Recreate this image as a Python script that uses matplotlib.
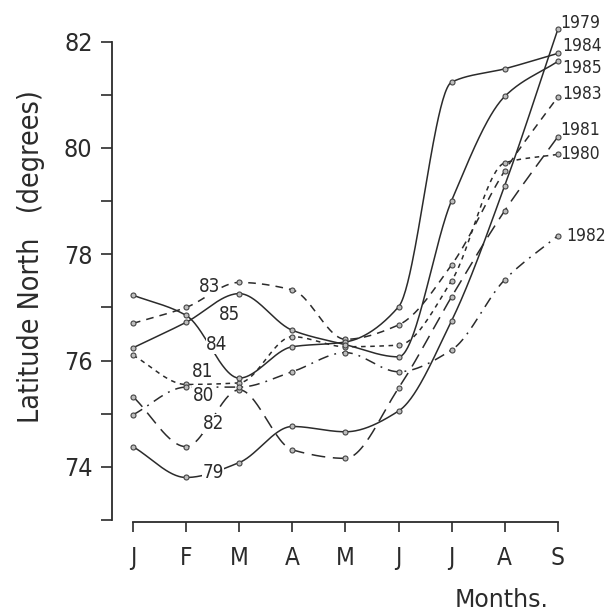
import matplotlib.pyplot as plt
import numpy as np

months = ["J", "F", "M", "A", "M", "J", "J", "A", "S"]

# latitude north (degrees) of the ice edge, Jan..Sep
lat_1979 = [74.38, 73.80, 74.08, 74.76, 74.66, 75.05, 76.75, 79.29, 82.23]
lat_1980 = [76.10, 75.55, 75.58, 76.45, 76.26, 76.29, 77.50, 79.72, 79.88]
lat_1981 = [75.32, 74.38, 75.45, 74.32, 74.16, 75.48, 77.20, 78.82, 80.21]
lat_1982 = [74.98, 75.50, 75.50, 75.79, 76.15, 75.79, 76.20, 77.52, 78.35]
lat_1983 = [76.70, 77.00, 77.47, 77.33, 76.40, 76.67, 77.80, 79.57, 80.96]
lat_1984 = [77.23, 76.85, 75.67, 76.26, 76.35, 77.01, 81.24, 81.49, 81.78]
lat_1985 = [76.24, 76.72, 77.26, 76.57, 76.30, 76.07, 79.01, 80.97, 81.63]

years = ["1979", "1980", "1981", "1982", "1983", "1984", "1985"]
series = [lat_1979, lat_1980, lat_1981, lat_1982, lat_1983, lat_1984, lat_1985]

INK = "#2b2b2b"
styles = {
    "1979": "-",
    "1980": (0, (3, 3)),
    "1981": (0, (9, 5)),
    "1982": (0, (7, 4, 1.2, 4)),
    "1983": (0, (5, 4)),
    "1984": "-",
    "1985": "-",
}
# end label offsets in points (dx, dy)
end_offsets = {
    "1979": (2, 5), "1984": (3, 5), "1985": (3, -5), "1983": (3, 2),
    "1981": (2, 5), "1980": (2, 0), "1982": (6, 0),
}
# short year tags written inside the plot (month index, latitude)
tags = [("83", 1.45, 77.39), ("85", 1.81, 76.86), ("84", 1.58, 76.31),
        ("81", 1.31, 75.79), ("80", 1.32, 75.35), ("82", 1.51, 74.81),
        ("79", 1.51, 73.89)]


def pchip(x, y, xs):
    """smooth monotone cubic through the points (hand-drawn look)"""
    x = np.asarray(x, float)
    y = np.asarray(y, float)
    h = np.diff(x)
    d = np.diff(y) / h
    m = np.zeros_like(y)
    m[0], m[-1] = d[0], d[-1]
    for k in range(1, len(y) - 1):
        if d[k - 1] * d[k] > 0:
            w1 = 2 * h[k] + h[k - 1]
            w2 = h[k] + 2 * h[k - 1]
            m[k] = (w1 + w2) / (w1 / d[k - 1] + w2 / d[k])
    idx = np.clip(np.searchsorted(x, xs) - 1, 0, len(x) - 2)
    t = (xs - x[idx]) / h[idx]
    h00 = 2 * t**3 - 3 * t**2 + 1
    h10 = t**3 - 2 * t**2 + t
    h01 = -2 * t**3 + 3 * t**2
    h11 = t**3 - t**2
    return (h00 * y[idx] + h10 * h[idx] * m[idx]
            + h01 * y[idx + 1] + h11 * h[idx] * m[idx + 1])


fig = plt.figure(figsize=(6.1, 6.11), dpi=100)
ax = fig.add_axes([112 / 610, 1 - 520 / 611, 478 / 610, 478.3 / 611])

xm = np.arange(len(months))
xs = np.linspace(0, len(months) - 1, 400)

for yr, vals in zip(years, series):
    ax.plot(xs, pchip(xm, vals, xs), color=INK, lw=1.1,
            linestyle=styles[yr], clip_on=False)
    ax.plot(xm, vals, "o", ms=3.6, mfc="#bdbdbd", mec="#444444",
            mew=0.8, clip_on=False, zorder=3)
    ax.annotate(yr, (xm[-1], vals[-1]), xytext=end_offsets[yr],
                textcoords="offset points", ha="left", va="center",
                fontsize=12.5, color=INK, fontstretch="condensed",
                annotation_clip=False)

for txt, tx, ty in tags:
    ax.text(tx, ty, txt, ha="center", va="center", fontsize=13.5,
            color=INK, fontstretch="condensed",
            bbox=dict(fc="white", ec="none", pad=0.3))

ax.set_xlim((112 - 133) / 53.1, (590 - 133) / 53.1)
ax.set_ylim(73, 82)

for s in ["top", "right"]:
    ax.spines[s].set_visible(False)
ax.spines["left"].set_bounds(73, 82)
ax.spines["bottom"].set_bounds(0, 8)
ax.spines["bottom"].set_position(("outward", 1.5))
for s in ["left", "bottom"]:
    ax.spines[s].set_color(INK)
    ax.spines[s].set_linewidth(1.3)

ax.set_yticks([73, 74, 75, 76, 77, 78, 79, 80, 81, 82])
ax.set_yticklabels(["", "74", "", "76", "", "78", "", "80", "", "82"])
ax.set_xticks(xm)
ax.set_xticklabels(months)
ax.tick_params(axis="y", direction="out", length=8, width=1.2,
               color=INK, labelsize=18, labelcolor=INK, pad=6)
ax.tick_params(axis="x", direction="out", length=7, width=1.2,
               color=INK, labelsize=17.5, labelcolor=INK, pad=10)
for lab in ax.get_xticklabels() + ax.get_yticklabels():
    lab.set_fontstretch("condensed")

fig.text(31 / 610, 1 - 257 / 611, "Latitude North   (degrees)",
         rotation=90, ha="center", va="center", fontsize=20.5,
         color=INK, fontstretch="condensed")
fig.text(502 / 610, 1 - 600 / 611, "Months.", ha="center", va="center",
         fontsize=17, color=INK)

fig.savefig("out.png", dpi=100, facecolor="white")
